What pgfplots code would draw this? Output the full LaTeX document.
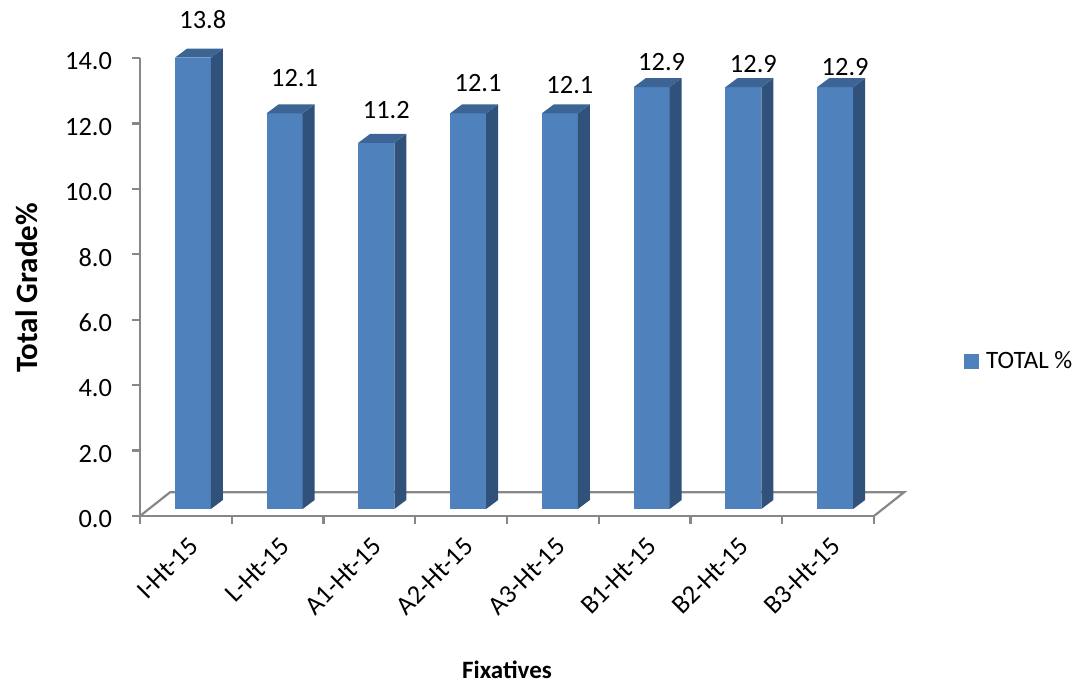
\documentclass[border=0pt]{standalone}
\usepackage{pgfplots}
\pgfplotsset{compat=1.18}
\usepackage{pgfplotstable}
\usepackage{fontspec}
\setmainfont{Carlito}
\newcommand\tf{\fontsize{13.2pt}{15pt}\selectfont}
\definecolor{barfront}{HTML}{4F81BD}
\definecolor{barside}{HTML}{30517A}
\definecolor{bartop}{HTML}{3C6596}
\definecolor{axisgray}{HTML}{878787}

\pgfplotstableread{
x y
0.5 13.8
1.5 12.1
2.5 11.2
3.5 12.1
4.5 12.1
5.5 12.9
6.5 12.9
7.5 12.9
}\datatable

\pgfdeclareplotmark{bar3d}{%
  \pgfmathsetlengthmacro\barbot{3.5pt-\barval*16.35pt}%
  \pgfmathsetlengthmacro\barbotd{8pt-\barval*16.35pt}%
  \pgfsetfillcolor{barfront}%
  \pgfpathrectanglecorners{\pgfpoint{-5.5pt}{\barbot}}{\pgfpoint{12.5pt}{3.5pt}}%
  \pgfusepath{fill}%
  \pgfsetfillcolor{barside}%
  \pgfpathmoveto{\pgfpoint{12.5pt}{\barbot}}%
  \pgfpathlineto{\pgfpoint{18.5pt}{\barbotd}}%
  \pgfpathlineto{\pgfpoint{18.5pt}{8pt}}%
  \pgfpathlineto{\pgfpoint{12.5pt}{3.5pt}}%
  \pgfpathclose
  \pgfusepath{fill}%
  \pgfsetfillcolor{bartop}%
  \pgfpathmoveto{\pgfpoint{-5.5pt}{3.5pt}}%
  \pgfpathlineto{\pgfpoint{12.5pt}{3.5pt}}%
  \pgfpathlineto{\pgfpoint{18.5pt}{8pt}}%
  \pgfpathlineto{\pgfpoint{0.5pt}{8pt}}%
  \pgfpathclose
  \pgfusepath{fill}%
}

\begin{document}
\begin{tikzpicture}
\begin{axis}[
  at={(0,0)}, anchor=origin,
  x=45.875pt, y=16.35pt,
  xmin=0, xmax=8, ymin=0, ymax=14,
  clip=false,
  axis x line*=bottom, axis y line*=left,
  axis line style={-, draw=axisgray, line width=1.1pt},
  every tick/.style={draw=axisgray, line width=1.1pt},
  tick align=outside,
  major tick length=3.8pt,
  xtick={0,1,...,8}, xticklabels={},
  extra x ticks={0.5,1.5,2.5,3.5,4.5,5.5,6.5,7.5},
  extra x tick labels={I-Ht-15,L-Ht-15,A1-Ht-15,A2-Ht-15,A3-Ht-15,B1-Ht-15,B2-Ht-15,B3-Ht-15},
  extra x tick style={major tick length=0pt},
  xticklabel style={font=\tf, xshift=4pt, yshift=-13pt, rotate=45, anchor=east, inner sep=0pt},
  ytick={0,2,...,14},
  yticklabels={0.0,2.0,4.0,6.0,8.0,10.0,12.0,14.0},
  yticklabel style={font=\tf, anchor=east, inner sep=0pt, xshift=-10pt, yshift=-1.5pt},
  every axis y label/.style={at={(rel axis cs:-0.1546,0.498)}, rotate=90, anchor=center,
    font=\fontsize{15.5pt}{18pt}\selectfont\bfseries},
  ylabel={Total Grade\%},
  every axis x label/.style={at={(rel axis cs:0.5,-0.3364)}, anchor=center,
    font=\fontsize{12.5pt}{15pt}\selectfont\bfseries},
  xlabel={Fixatives},
  legend style={at={(rel axis cs:1.1226,0.3386)}, anchor=west, draw=none, fill=none,
    inner sep=0pt, font=\fontsize{12.5pt}{14pt}\selectfont,
    nodes={inner sep=0pt}, /tikz/every even column/.append style={column sep=0pt}},
  legend cell align=left,
]
\addplot[draw=axisgray, line width=1.1pt, forget plot]
  coordinates {(0,0) (0.327,0.725) (8.327,0.725) (8,0)};
\addplot[scatter, only marks, mark=bar3d, forget plot,
  point meta=y,
  visualization depends on={rawy \as \barval},
  visualization depends on={rawx \as \xval},
  nodes near coords={\tf\pgfmathprintnumber[assume math mode=true,fixed,precision=1,fixed zerofill]{\pgfplotspointmeta}},
  every node near coord/.style={anchor=center, inner sep=0pt, text=black,
    xshift=8.5pt, yshift={22.5pt-1.25pt*(\xval-0.5)}},
] table[x=x, y=y] {\datatable};
\addlegendimage{legend image code/.code={\fill[barfront] (0pt,-3.5pt) rectangle (7pt,3.5pt);}}
\addlegendentry{\hspace{3.5pt}TOTAL \%}
\end{axis}
\pgfresetboundingbox
\path (-70pt,-86.5pt) rectangle (473pt,258pt);
\end{tikzpicture}
\end{document}
